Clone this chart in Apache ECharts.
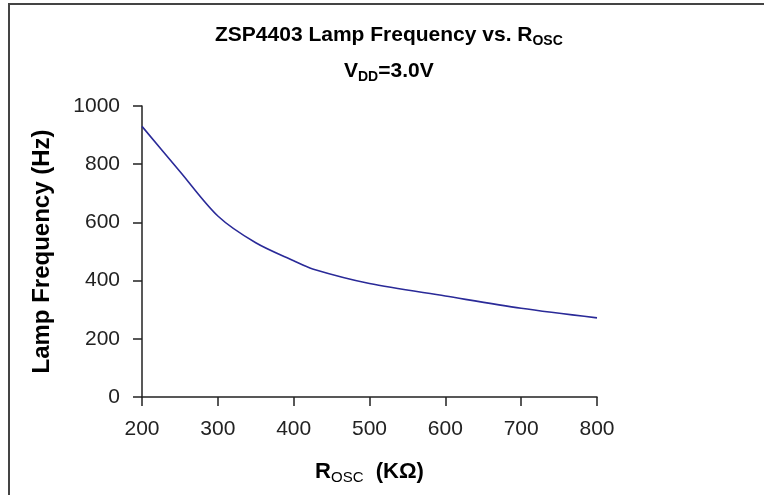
<!DOCTYPE html>
<html>
<head>
<meta charset="utf-8">
<script src="https://cdn.jsdelivr.net/npm/echarts@6/dist/echarts.min.js"></script>
<style>
html,body{margin:0;padding:0;background:#fff;}
#c{width:764px;height:495px;}
</style>
</head>
<body>
<div id="c"></div>
<script>
const rOsc = [200, 250, 300, 350, 400, 425, 500, 600, 700, 800];
const lampFreq = [930, 775, 622, 530, 468, 440, 390, 347, 305, 272];
const xTicks = {min: 200, max: 800, interval: 100};
const yTicks = {min: 0, max: 1000, interval: 200};

const chart = echarts.init(document.getElementById('c'), null, {renderer: 'canvas'});
const FONT = '"Liberation Sans", Arial, sans-serif';
const richMain = {
  a: {fontFamily: FONT, fontWeight: 'bold', fontSize: 21, color: '#000', lineHeight: 26},
  s: {fontFamily: FONT, fontWeight: 'bold', fontSize: 14, color: '#000', lineHeight: 14, verticalAlign: 'bottom'}
};
chart.setOption({
  backgroundColor: '#fff',
  animation: false,
  title: [{
    text: '{a|ZSP4403 Lamp Frequency vs. R}{s|OSC}',
    left: 210, top: 17,
    textStyle: {rich: richMain}
  }, {
    text: '{a|V}{s|DD}{a|=3.0V}',
    left: 339, top: 53,
    textStyle: {rich: richMain}
  }],
  graphic: [{
    type: 'rect', z: -1,
    shape: {x: 9, y: 4, width: 800, height: 520},
    style: {fill: 'none', stroke: '#444', lineWidth: 2}
  }],
  grid: {left: 142, right: 167, top: 106, bottom: 98, containLabel: false},
  xAxis: {
    type: 'value', min: xTicks.min, max: xTicks.max, interval: xTicks.interval,
    name: '{a|R}{s|OSC}{a|  (KΩ)}', nameLocation: 'middle', nameGap: 62,
    nameTextStyle: {
      rich: {
        a: {fontFamily: FONT, fontWeight: 'bold', fontSize: 22, color: '#000', lineHeight: 26},
        s: {fontFamily: FONT, fontSize: 15, color: '#000', lineHeight: 14, verticalAlign: 'bottom'}
      }
    },
    axisLine: {onZero: false, lineStyle: {color: '#222', width: 1.5}},
    axisTick: {show: true, inside: false, length: 9, lineStyle: {color: '#222', width: 1.5}},
    axisLabel: {fontFamily: FONT, fontSize: 21, color: '#222', margin: 22},
    splitLine: {show: false}
  },
  yAxis: {
    type: 'value', min: yTicks.min, max: yTicks.max, interval: yTicks.interval,
    name: 'Lamp Frequency (Hz)', nameLocation: 'middle', nameGap: 88,
    nameTextStyle: {fontFamily: FONT, fontWeight: 'bold', fontSize: 24, color: '#000'},
    axisLine: {show: true, lineStyle: {color: '#222', width: 1.5}},
    axisTick: {show: true, inside: false, length: 9, lineStyle: {color: '#222', width: 1.5}},
    axisLabel: {fontFamily: FONT, fontSize: 21, color: '#222', margin: 22, formatter: v => String(v)},
    splitLine: {show: false}
  },
  series: [{
    type: 'line',
    data: rOsc.map((x, i) => [x, lampFreq[i]]),
    showSymbol: false, symbol: 'none',
    smooth: 0.3,
    lineStyle: {color: '#2a2a98', width: 1.6}
  }]
});
</script>
</body>
</html>
